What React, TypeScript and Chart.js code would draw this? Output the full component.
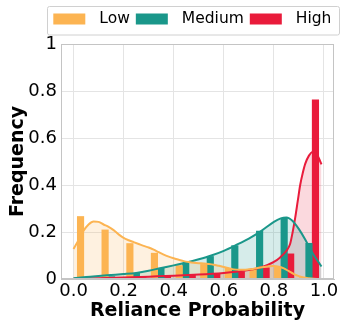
import React, { useEffect, useRef } from 'react';
import { Chart, registerables } from 'chart.js';

Chart.register(...registerables);

const seriesLabels = ['Low', 'Medium', 'High'];
const seriesColors = ['#FCB452', '#1A978A', '#E91B3B'];
const seriesFills = ['rgba(252,180,82,0.18)', 'rgba(26,151,138,0.18)', 'rgba(233,27,59,0.17)'];

// histogram bins (bin centers) and bar heights
const binCenters = [0.054, 0.152, 0.251, 0.349, 0.448, 0.546, 0.644, 0.743, 0.841, 0.94];
const lowCounts = [0.266, 0.209, 0.151, 0.11, 0.057, 0.062, 0.046, 0.041, 0.053, 0.006];
const mediumCounts = [0.004, 0.01, 0.024, 0.046, 0.067, 0.096, 0.142, 0.204, 0.259, 0.152];
const highCounts = [0.002, 0.004, 0.006, 0.013, 0.019, 0.024, 0.031, 0.048, 0.107, 0.762];

// density curves
const lowKdeX = [0, 0.02, 0.04, 0.06, 0.08, 0.1, 0.12, 0.14, 0.16, 0.18, 0.2, 0.22, 0.24, 0.26, 0.28, 0.3, 0.32, 0.34, 0.36, 0.38, 0.4, 0.42, 0.44, 0.46, 0.48, 0.5, 0.52, 0.54, 0.56, 0.58, 0.6, 0.62, 0.64, 0.66, 0.68, 0.7, 0.72, 0.74, 0.76, 0.78, 0.8, 0.82, 0.84, 0.86, 0.88, 0.9, 0.92, 0.94, 0.96, 0.98];
const lowKdeY = [0.128, 0.165, 0.205, 0.232, 0.245, 0.243, 0.232, 0.222, 0.208, 0.19, 0.175, 0.165, 0.157, 0.149, 0.141, 0.134, 0.125, 0.114, 0.104, 0.095, 0.088, 0.082, 0.076, 0.072, 0.069, 0.067, 0.066, 0.064, 0.061, 0.056, 0.051, 0.046, 0.041, 0.039, 0.039, 0.041, 0.044, 0.048, 0.051, 0.054, 0.055, 0.052, 0.045, 0.033, 0.021, 0.012, 0.006, 0.003, 0.001, 0.0];
const mediumKdeX = [0, 0.05, 0.1, 0.15, 0.2, 0.25, 0.3, 0.35, 0.4, 0.45, 0.5, 0.55, 0.6, 0.65, 0.7, 0.75, 0.8, 0.825, 0.85, 0.875, 0.9, 0.925, 0.95, 0.97, 0.99];
const mediumKdeY = [0.003, 0.008, 0.013, 0.017, 0.021, 0.026, 0.035, 0.047, 0.058, 0.07, 0.084, 0.1, 0.12, 0.145, 0.172, 0.205, 0.243, 0.257, 0.262, 0.247, 0.212, 0.168, 0.118, 0.085, 0.053];
const highKdeX = [0, 0.1, 0.2, 0.3, 0.4, 0.5, 0.6, 0.65, 0.7, 0.75, 0.775, 0.8, 0.825, 0.85, 0.865, 0.875, 0.885, 0.895, 0.905, 0.915, 0.925, 0.94, 0.955, 0.965, 0.975, 0.985, 0.99];
const highKdeY = [0.001, 0.003, 0.006, 0.01, 0.014, 0.019, 0.026, 0.031, 0.038, 0.05, 0.06, 0.073, 0.092, 0.12, 0.15, 0.2, 0.26, 0.33, 0.4, 0.45, 0.49, 0.525, 0.542, 0.543, 0.525, 0.5, 0.488];

const xTicks = [0, 0.2, 0.4, 0.6, 0.8, 1.0];
const yTicks = [0, 0.2, 0.4, 0.6, 0.8, 1];

const FONT = 'DejaVu Sans';

const frameLegendPlugin = {
  id: 'frameLegend',
  afterDraw(chart: any) {
    const { ctx, chartArea } = chart;
    ctx.save();
    ctx.strokeStyle = '#c4c4c4';
    ctx.lineWidth = 1;
    ctx.strokeRect(Math.round(chartArea.left) + 0.5, Math.round(chartArea.top) + 0.5,
      Math.round(chartArea.right - chartArea.left) - 1, Math.round(chartArea.bottom - chartArea.top) - 1);
    ctx.fillStyle = '#ffffff';
    ctx.strokeStyle = '#d0d0d0';
    ctx.beginPath();
    (ctx as any).roundRect(47.5, 6.5, 292, 28.5, 2);
    ctx.fill();
    ctx.stroke();
    ctx.font = `15.5px "${FONT}"`;
    ctx.textBaseline = 'middle';
    ctx.textAlign = 'left';
    let x = 53.3;
    const cy = 19;
    seriesLabels.forEach((label, i) => {
      ctx.fillStyle = seriesColors[i];
      ctx.fillRect(x, cy - 5.5, 32, 11);
      x += 32 + 14;
      ctx.fillStyle = '#000';
      ctx.fillText(label, x, cy);
      x += ctx.measureText(label).width + 6;
    });
    ctx.restore();
  },
};

export default function App() {
  const ref = useRef<HTMLCanvasElement>(null);
  useEffect(() => {
    const counts = [lowCounts, mediumCounts, highCounts];
    const kdes = [
      [lowKdeX, lowKdeY],
      [mediumKdeX, mediumKdeY],
      [highKdeX, highKdeY],
    ];
    const lineSets = kdes.map(([xs, ys], k) => ({
      type: 'line' as const,
      label: seriesLabels[k] + ' KDE',
      data: xs.map((x, i) => ({ x, y: ys[i] })),
      borderColor: seriesColors[k],
      backgroundColor: seriesFills[k],
      fill: 'origin',
      borderWidth: 2,
      pointRadius: 0,
      pointHoverRadius: 0,
      pointBorderWidth: 0,
      cubicInterpolationMode: 'monotone' as const,
      order: 1,
    }));
    const barSets = counts.map((c, k) => ({
      type: 'bar' as const,
      label: seriesLabels[k],
      data: binCenters.map((x, i) => ({ x, y: c[i] })),
      backgroundColor: seriesColors[k],
      borderWidth: 0,
      barThickness: 6.5,
      order: 5,
    }));
    const chart = new Chart(ref.current!, {
      type: 'bar',
      data: { datasets: [...lineSets, ...barSets] as any },
      options: {
        animation: false,
        responsive: false,
        layout: { padding: { top: 44, right: 7, left: 0, bottom: 0 } },
        plugins: {
          legend: { display: false },
          tooltip: { enabled: false },
          filler: { drawTime: 'beforeDatasetsDraw' },
        } as any,
        scales: {
          x: {
            type: 'linear',
            offset: false,
            min: -0.05,
            max: 1.04,
            afterBuildTicks: (axis: any) => { axis.ticks = xTicks.map((v) => ({ value: v })); },
            afterFit: (s: any) => { s.height = 50; },
            ticks: {
              callback: (v: any) => Number(v).toFixed(1),
              font: { family: FONT, size: 18 },
              color: '#000',
              padding: 2,
              maxRotation: 0,
            },
            grid: { color: '#e4e4e4', drawTicks: false, offset: false },
            border: { color: '#c4c4c4' },
            title: {
              display: true,
              text: 'Reliance Probability',
              font: { family: FONT, size: 19, weight: 'bold' },
              color: '#000',
              padding: { top: 0, bottom: 7 },
            },
          },
          y: {
            type: 'linear',
            min: 0,
            max: 1,
            afterBuildTicks: (axis: any) => { axis.ticks = yTicks.map((v) => ({ value: v })); },
            afterFit: (s: any) => { s.width = 61; },
            ticks: {
              callback: (v: any) => (v === 0 ? '0' : v === 1 ? '1' : Number(v).toFixed(1)),
              font: { family: FONT, size: 18 },
              color: '#000',
              padding: 4,
            },
            grid: { color: '#e4e4e4', drawTicks: false },
            border: { color: '#c4c4c4' },
            title: {
              display: true,
              text: 'Frequency',
              font: { family: FONT, size: 19, weight: 'bold' },
              color: '#000',
              padding: { top: 7, bottom: 0 },
            },
          },
        },
      },
      plugins: [frameLegendPlugin],
    });
    return () => chart.destroy();
  }, []);
  return (
    <div style={{ position: 'absolute', left: 0, top: 0, width: 341, height: 329, background: '#fff' }}>
      <canvas ref={ref} width={341} height={329} style={{ width: 341, height: 329, display: 'block' }} />
    </div>
  );
}
